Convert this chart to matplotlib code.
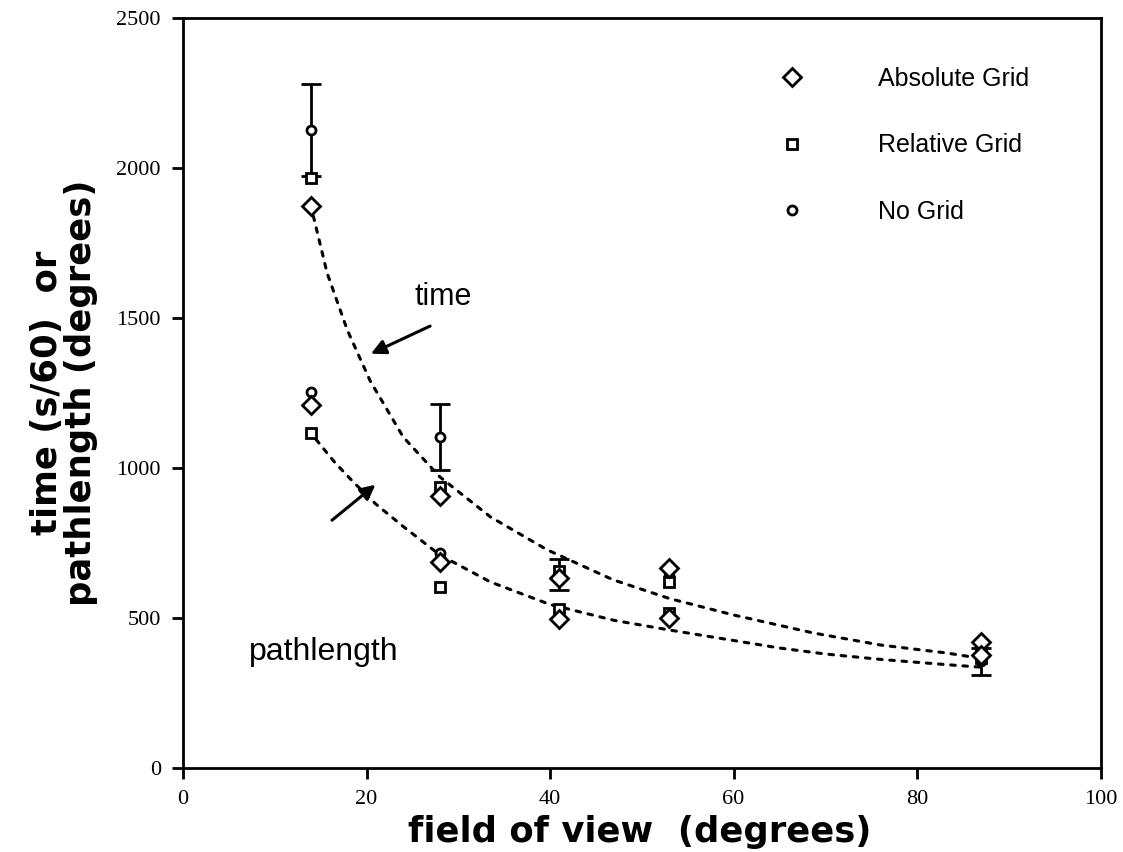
# Field of view vs time / pathlength, three grid conditions

import numpy as np
import matplotlib
matplotlib.use('Agg')
import matplotlib.pyplot as plt
from matplotlib.lines import Line2D

fov = [14, 28, 41, 53, 87]

time_abs = [1873, 905, 633, 665, 420]
time_rel = [1967, 935, 655, 620, 385]
time_none = [2127, 1103, 645, 640, 378]
time_none_err = [153, 110, 53, 0, 0]

path_abs = [1210, 687, 495, 500, 375]
path_rel = [1117, 603, 530, 515, 365]
path_none = [1253, 717, 520, 510, 355]
path_none_err = [0, 0, 0, 0, 45]

# dotted fit curves
time_fit_x = [14.2, 15.7, 17.9, 20.4, 24.0, 28.0, 33.5, 39.7, 46.9, 53.0, 60.0, 68.7, 76.0, 83.3, 87.0]
time_fit_y = [1840, 1650, 1460, 1290, 1103, 970, 837, 727, 627, 565, 510, 450, 410, 383, 365]
path_fit_x = [14.5, 16.5, 18.5, 21.0, 24.0, 28.0, 33.5, 40.0, 47.0, 53.0, 60.0, 65.0, 70.0, 76.0, 83.0, 87.0]
path_fit_y = [1095, 1020, 955, 880, 805, 710, 620, 545, 492, 460, 425, 400, 380, 362, 345, 336]

x_ticks = [0, 20, 40, 60, 80, 100]
y_ticks = [0, 500, 1000, 1500, 2000, 2500]

serif = ['Liberation Serif', 'DejaVu Serif']
sans = ['Liberation Sans', 'DejaVu Sans']

fig = plt.figure(figsize=(11.23, 8.52), dpi=100)
ax = fig.add_axes([0.163, 0.0986, 0.817, 0.8803])

dot = dict(color='black', linestyle=(0, (1.5, 2.5)), linewidth=2.2, dash_capstyle='round')
ax.plot(time_fit_x, time_fit_y, **dot)
ax.plot(path_fit_x, path_fit_y, **dot)

mk = dict(linestyle='none', markerfacecolor='white', markeredgecolor='black', markeredgewidth=2)
eb = dict(fmt='none', ecolor='black', elinewidth=2, capsize=7, capthick=2)

# only the No Grid points that carry an error bar
for ys, errs in ((time_none, time_none_err), (path_none, path_none_err)):
    idx = [i for i, e in enumerate(errs) if e > 0]
    ax.errorbar([fov[i] for i in idx], [ys[i] for i in idx],
                yerr=[errs[i] for i in idx], **eb)

for ys in (time_none, path_none):
    ax.plot(fov, ys, marker='o', markersize=6.5, **mk)
for ys in (time_rel, path_rel):
    ax.plot(fov, ys, marker='s', markersize=7, **mk)
for ys in (time_abs, path_abs):
    ax.plot(fov, ys, marker='D', markersize=9, **mk)

ax.set_xlim(0, 100)
ax.set_ylim(0, 2500)
ax.set_xticks(x_ticks)
ax.set_yticks(y_ticks)
ax.tick_params(direction='out', length=8, width=2, labelsize=16, pad=8)
for lab in ax.get_xticklabels() + ax.get_yticklabels():
    lab.set_family(serif)
for s in ax.spines.values():
    s.set_linewidth(2)

fig.text(640 / 1123, 1 - 832 / 852, 'field of view  (degrees)', fontsize=25.5, fontweight='bold',
         family='DejaVu Sans', ha='center', va='center')
fig.text(64 / 1123, 1 - 393 / 852, 'time (s/60)  or\npathlength (degrees)', fontsize=25.5,
         fontweight='bold', family='DejaVu Sans',
         rotation=90, ha='center', va='center', linespacing=1.0, multialignment='center')

# annotations
ax.annotate('', xy=(20.2, 1377), xytext=(27.2, 1477),
            arrowprops=dict(arrowstyle='-|>', color='black', lw=2.2, mutation_scale=22))
ax.text(28.3, 1570, 'time', fontsize=22, family=sans, ha='center', va='center')
ax.annotate('', xy=(21.2, 950), xytext=(16.0, 820),
            arrowprops=dict(arrowstyle='-|>', color='black', lw=2.2, mutation_scale=22))
ax.text(15.3, 387, 'pathlength', fontsize=23, family=sans, ha='center', va='center')

handles = [
    Line2D([], [], marker='D', markersize=9, **mk),
    Line2D([], [], marker='s', markersize=7, **mk),
    Line2D([], [], marker='o', markersize=6.5, **mk),
]
labels = ['Absolute Grid', 'Relative Grid', 'No Grid']
ax.legend(handles, labels, loc='upper left', bbox_to_anchor=(0.626, 0.965), frameon=False,
          prop={'family': sans, 'size': 18}, handletextpad=2.94, labelspacing=1.71,
          handlelength=1.0)

fig.savefig('out.png', dpi=100)
